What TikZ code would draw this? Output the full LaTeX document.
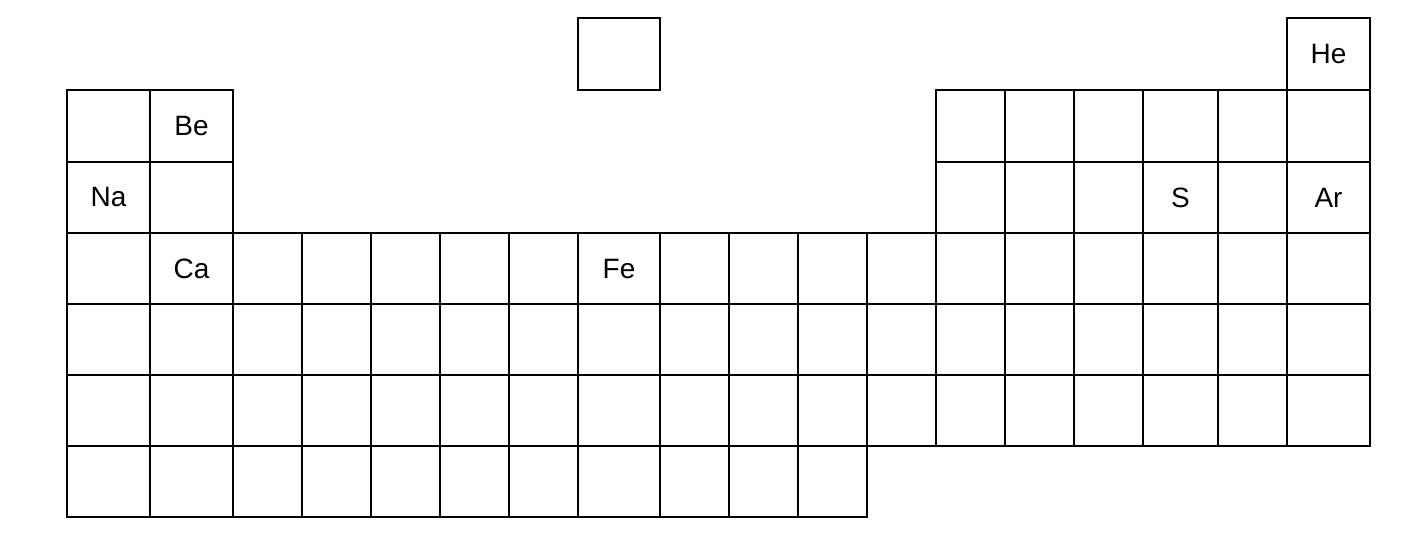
\documentclass[tikz,border=0pt]{standalone}
\usepackage{fontspec}
\setmainfont{Liberation Sans}
\def\xs{{67,150,233,302,371,440,509,578,660,729,798,867,936,1005,1074,1143,1218,1287,1370}}
\def\ys{{18,90,162,233,304,375,446,517}}
\expandafter\def\csname lab-17-0\endcsname{He}
\expandafter\def\csname lab-1-1\endcsname{Be}
\expandafter\def\csname lab-0-2\endcsname{Na}
\expandafter\def\csname lab-15-2\endcsname{S}
\expandafter\def\csname lab-17-2\endcsname{Ar}
\expandafter\def\csname lab-1-3\endcsname{Ca}
\expandafter\def\csname lab-7-3\endcsname{Fe}
\newcommand\ptcell[2]{%
  \pgfmathsetmacro\xa{\xs[#1]}\pgfmathsetmacro\xb{\xs[#1+1]}%
  \pgfmathsetmacro\ya{\ys[#2]}\pgfmathsetmacro\yb{\ys[#2+1]}%
  \node[cellbox, minimum width={(\xb-\xa)*1pt}, minimum height={(\yb-\ya)*1pt}]
    (c-#1-#2) at ({(\xa+\xb)/2},{(\ya+\yb)/2})
    {\ifcsname lab-#1-#2\endcsname\csname lab-#1-#2\endcsname\fi};}
\begin{document}
\begin{tikzpicture}[x=1pt,y=-1pt,
  cellbox/.style={draw, line width=1.8pt, inner sep=0pt, outer sep=0pt,
    font=\fontsize{28}{28}\selectfont}]
\useasboundingbox (0,0) rectangle (1414,544);
% row 0
\ptcell{7}{0}
\ptcell{17}{0}
% rows 1-2
\foreach \rr in {1,2}{
  \foreach \cc in {0,1,12,13,14,15,16,17}{\ptcell{\cc}{\rr}}
}
% rows 3-5
\foreach \rr in {3,4,5}{
  \foreach \cc in {0,...,17}{\ptcell{\cc}{\rr}}
}
% row 6
\foreach \cc in {0,...,10}{\ptcell{\cc}{6}}
\end{tikzpicture}
\end{document}
